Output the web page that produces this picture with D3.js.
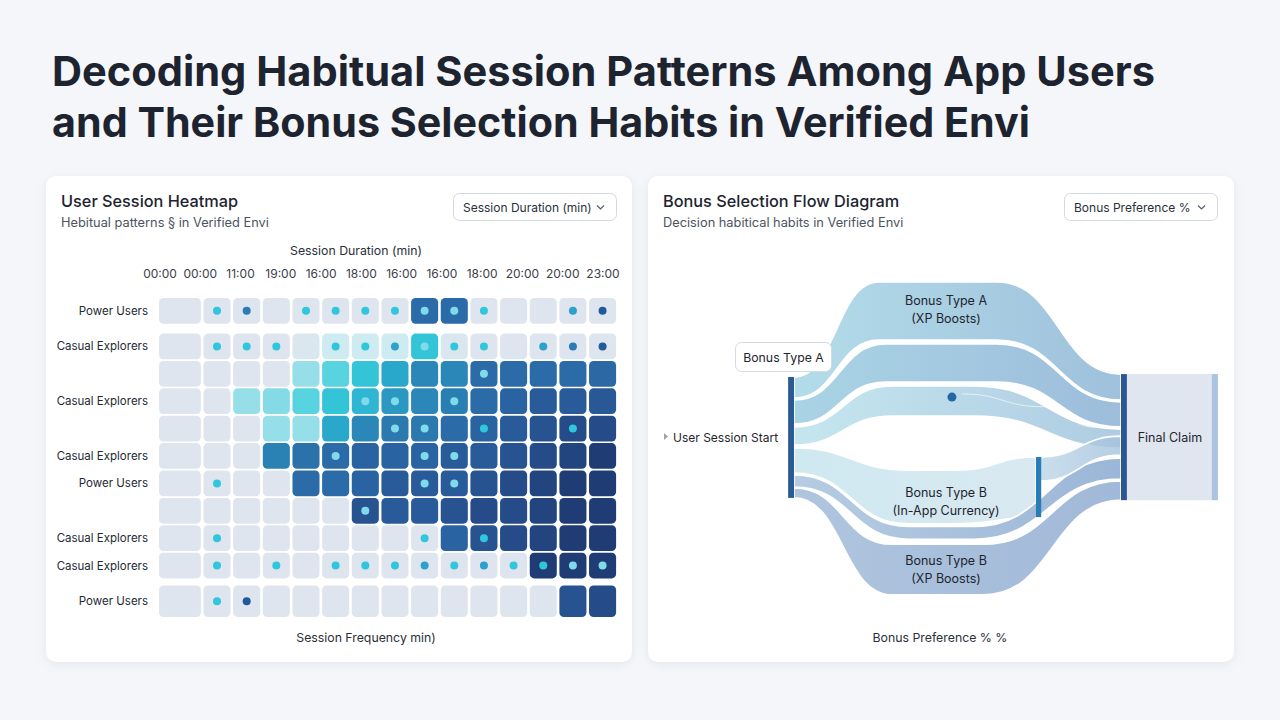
<!DOCTYPE html>
<html><head><meta charset="utf-8">
<script src="https://cdn.jsdelivr.net/npm/d3@7"></script>
<style>
html,body{margin:0;padding:0;background:#f4f6f9;}
svg{display:block;font-family:Inter,"Noto Sans",sans-serif;}
</style></head>
<body><svg id="c" width="1280" height="720"></svg>
<script>
// ---------- DATA ----------
const titleLines = ["Decoding Habitual Session Patterns Among App Users","and Their Bonus Selection Habits in Verified Envi"];
const timeTicks = ["00:00","00:00","11:00","19:00","16:00","18:00","16:00","16:00","18:00","20:00","20:00","23:00"];
const rowLabels = ["Power Users","Casual Explorers","","Casual Explorers","","Casual Explorers","Power Users","","Casual Explorers","Casual Explorers","Power Users"];
// intensity level 0..10 per cell (rows x 15 columns)
const intensity = [
 [0,0,0,0,0,0,0,0,7,7,0,0,0,0,0],
 [0,0,0,0,0.3,1,1,1,4,0.3,0,0,0,0,0],
 [0,0,0,0,2,3,4,5,6,6,7,7,7,7,7.2],
 [0,0,2,2.3,3,4,4.5,5.5,6,6.3,7,7.5,8,8,8.2],
 [0,0,0,2,2,5,6,6.5,6.5,7,7.5,8,8.5,9,9],
 [0,0,0,6.2,6.8,7,7.5,7.5,7.5,8,8,8.5,9,9.5,10],
 [0,0,0,0,7,7,7.5,8,8,8,8.5,9,9.5,10,10],
 [0,0,0,0,0,0,8.5,8,8,8.5,9,9,9.5,10,10],
 [0,0,0,0,0,0,0,0,0,7.5,8.5,9,9.5,10,10],
 [0,0,0,0,0,0,0,0,0,0,0,0,10,10,10],
 [0,0,0,0,0,0,0,0,0,0,0,0,0,8.5,9]
];
// marker type per cell (0 none)
const markers = [
 [0,1,3,0,1,1,1,1,2,2,1,0,0,4,5],
 [0,1,1,1,0,1,1,4,2,1,1,0,4,3,5],
 [0,0,0,0,0,0,0,0,0,0,2,0,0,0,0],
 [0,0,0,0,0,0,2,2,0,2,0,0,0,0,0],
 [0,0,0,0,0,0,0,2,2,0,1,0,0,1,0],
 [0,0,0,0,0,2,0,0,2,2,0,0,0,0,0],
 [0,1,0,0,0,0,0,0,2,2,0,0,0,0,0],
 [0,0,0,0,0,0,2,0,0,0,0,0,0,0,0],
 [0,1,0,0,0,0,0,0,1,0,1,0,0,0,0],
 [0,1,0,1,0,1,1,1,4,1,4,1,1,2,2],
 [0,1,5,0,0,0,0,0,0,0,0,0,0,0,0]
];
// flow diagram: stations [progress %, top share, bottom share]
const flowIds = ["typeA_xp","typeA_2","typeA_3","typeB_iac","typeB_5","typeB_xp","merge"];
const flowStations = [
 [[0,30.3,36.9],[26,0.6,18.8],[62,0.6,18.8],[100,29.4,37.5]],
 [[0,37.5,45.0],[28,20.0,31.9],[62,20.0,31.9],[100,38.1,45.9]],
 [[0,45.9,51.6],[30,33.1,42.5],[55,33.1,42.5],[100,46.6,52.5]],
 [[0,52.5,60.3],[35,59.4,76.2],[50,59.4,76.2],[74,55.3,74.1]],
 [[0,60.9,64.7],[35,77.0,81.0],[55,77.0,81.0],[100,55.6,62.2]],
 [[0,65.0,68.1],[30,82.6,98.4],[58,82.6,98.4],[100,62.8,68.8]],
 [[75,55.3,62.8],[100,48.8,54.7]]
];
const flowLabels = [["Bonus Type A","(XP Boosts)"],null,null,["Bonus Type B","(In-App Currency)"],null,["Bonus Type B","(XP Boosts)"],null];
// nodes: [progress start, progress end, top share, bottom share]
const sourceNode = {name:"User Session Start", span:[-1.8,0], share:[30.3,68.1]};
const midNode = {span:[74,75.6], share:[55.3,74.1]};
const targetNode = {name:"Final Claim", span:[100,101.8], share:[29.4,68.8]};
const highlightPoint = [48.3,36.6];

// ---------- STYLE ----------
const levelColors = ["#dfe5ee","#cdebf1","#97dfe8","#58d3e0","#33c4d8","#2aa8cb","#2a87b7","#2b6ba7","#295b9a","#254b88","#1f3c75"];
const markerColors = {1:"#30c7dc",2:"#7fdbe9",3:"#2a7cb3",4:"#2aa2cc",5:"#1f5a9b"};
const flowGrad = [["#b3dce9","#9fc1dc"],["#a9d4e5","#9dbddb"],["#c5e6ef","#afcce2"],["#cfe9f0","#d9e8f1"],["#b5cce2","#9cb6d7"],["#afc5df","#a1b9d8"],["#bcd7e7","#a4c1dd"]];

const svg = d3.select("#c");
const defs = svg.append("defs");
const sh = defs.append("filter").attr("id","sh").attr("x","-10%").attr("y","-10%").attr("width","120%").attr("height","120%");
sh.append("feDropShadow").attr("dx",0).attr("dy",2).attr("stdDeviation",5).attr("flood-color","#8a96a8").attr("flood-opacity",0.16);

// title
svg.selectAll("text.title").data(titleLines).join("text")
  .attr("x",52).attr("y",(d,i)=>86+i*51)
  .attr("font-size",41).attr("font-weight",700).attr("fill","#1d2430")
  .attr("textLength",(d,i)=>i===0?1103:978).attr("lengthAdjust","spacingAndGlyphs")
  .text(d=>d);

// cards
const cards = [{x:46,title:"User Session Heatmap",sub:"Hebitual patterns § in Verified Envi",dd:"Session Duration (min)",ddx:453,ddw:163},
               {x:648,title:"Bonus Selection Flow Diagram",sub:"Decision habitical habits in Verified Envi",dd:"Bonus Preference  %",ddx:1064,ddw:153}];
cards.forEach(c=>{
  svg.append("rect").attr("x",c.x).attr("y",176).attr("width",586).attr("height",486).attr("rx",10)
    .attr("fill","#fff").attr("filter","url(#sh)");
  svg.append("text").attr("x",c.x+15).attr("y",207).attr("font-size",16.3).attr("font-weight",500).attr("fill","#1d2430").text(c.title);
  svg.append("text").attr("x",c.x+15).attr("y",227).attr("font-size",12.8).attr("fill","#4b5361").text(c.sub);
  svg.append("rect").attr("x",c.ddx+0.5).attr("y",193.5).attr("width",c.ddw).attr("height",27).attr("rx",6)
    .attr("fill","#fff").attr("stroke","#d3d9e1");
  svg.append("text").attr("x",c.ddx+10).attr("y",211.5).attr("font-size",12).attr("fill","#2a303a").text(c.dd);
  svg.append("path").attr("d",`M${c.ddx+c.ddw-19},205.5 l3.5,3.5 l3.5,-3.5`).attr("fill","none").attr("stroke","#555d6a").attr("stroke-width",1.2);
});

// ---------- HEATMAP ----------
const nCols = intensity[0].length, nRows = intensity.length;
const firstColSpan = 1.5;
const colStart = i => i===0 ? 0 : firstColSpan + (i-1);
const colSpan = i => i===0 ? firstColSpan : 1;
const xH = d3.scaleLinear().domain([0, firstColSpan + nCols - 1]).range([159, 618.7]);
const rowStart = i => i===0 ? 0 : (i < nRows-1 ? i+0.3 : i+0.5);
const rowSpan = i => i===nRows-1 ? 1.15 : 0.94;
const yH = d3.scaleLinear().domain([0, nRows+0.65]).range([298, 617]);
const color = d3.scaleLinear().domain(d3.range(11)).range(levelColors).interpolate(d3.interpolateRgb);
const gap = 2.6;

const cells = [];
intensity.forEach((row,r)=>row.forEach((v,c)=>cells.push({r,c,v,m:markers[r][c]})));
const gH = svg.append("g");
gH.selectAll("rect.cell").data(cells).join("rect")
  .attr("x",d=>xH(colStart(d.c)))
  .attr("y",d=>yH(rowStart(d.r)))
  .attr("width",d=>xH(colStart(d.c)+colSpan(d.c))-xH(colStart(d.c))-gap)
  .attr("height",d=>yH(rowStart(d.r)+rowSpan(d.r))-yH(rowStart(d.r)))
  .attr("rx",4.5).attr("fill",d=>color(d.v));
gH.selectAll("circle.mk").data(cells.filter(d=>d.m>0)).join("circle")
  .attr("cx",d=>(xH(colStart(d.c))+xH(colStart(d.c)+colSpan(d.c))-gap)/2)
  .attr("cy",d=>(yH(rowStart(d.r))+yH(rowStart(d.r)+rowSpan(d.r)))/2)
  .attr("r",4).attr("fill",d=>markerColors[d.m]);

// row labels
gH.selectAll("text.rl").data(rowLabels.map((l,i)=>({l,i})).filter(d=>d.l)).join("text")
  .attr("x",148).attr("y",d=>(yH(rowStart(d.i))+yH(rowStart(d.i)+rowSpan(d.i)))/2+4)
  .attr("text-anchor","end").attr("font-size",11.5).attr("fill","#232933").text(d=>d.l);

// top time ticks
const xT = d3.scalePoint().domain(d3.range(timeTicks.length)).range([160,603]);
gH.selectAll("text.tt").data(timeTicks).join("text")
  .attr("x",(d,i)=>xT(i)).attr("y",277.5).attr("text-anchor","middle")
  .attr("font-size",12).attr("fill","#3a404a").text(d=>d);
gH.append("text").attr("x",356).attr("y",254.5).attr("text-anchor","middle").attr("font-size",12.3).attr("fill","#2a303a").text("Session Duration (min)");
gH.append("text").attr("x",366).attr("y",641.5).attr("text-anchor","middle").attr("font-size",12.3).attr("fill","#2a303a").text("Session Frequency min)");

// ---------- FLOW DIAGRAM ----------
const xF = d3.scaleLinear().domain([0,100]).range([794,1121]);
const yF = d3.scaleLinear().domain([0,100]).range([280,600]);
const gF = svg.append("g");
flowStations.forEach((st,i)=>{
  const gr = defs.append("linearGradient").attr("id","fg"+i).attr("gradientUnits","userSpaceOnUse")
    .attr("x1",xF(st[0][0])).attr("x2",xF(st[st.length-1][0])).attr("y1",0).attr("y2",0);
  gr.append("stop").attr("offset",0).attr("stop-color",flowGrad[i][0]);
  gr.append("stop").attr("offset",1).attr("stop-color",flowGrad[i][1]);
});
const area = d3.area().curve(d3.curveBumpX).x(d=>xF(d[0])).y0(d=>yF(d[1])).y1(d=>yF(d[2]));
gF.selectAll("path.flow").data(flowStations).join("path")
  .attr("d",area).attr("fill",(d,i)=>`url(#fg${i})`)
  .attr("fill-opacity",(d,i)=>flowIds[i]==="merge"?0.8:1)
  .attr("stroke","#fff").attr("stroke-width",1.6);

// highlight point & trail
gF.append("path").attr("d",d3.line().curve(d3.curveBumpX).x(d=>xF(d[0])).y(d=>yF(d[1]))([[highlightPoint[0]+3,highlightPoint[1]-1],[highlightPoint[0]+28,highlightPoint[1]+3],[92,46]]))
  .attr("fill","none").attr("stroke","#fff").attr("stroke-opacity",0.6).attr("stroke-width",1);
gF.append("circle").attr("cx",xF(highlightPoint[0])).attr("cy",yF(highlightPoint[1])).attr("r",4.5).attr("fill","#2566a6");

// nodes
gF.append("rect").attr("x",xF(sourceNode.span[0])).attr("y",yF(sourceNode.share[0]))
  .attr("width",xF(sourceNode.span[1])-xF(sourceNode.span[0])).attr("height",yF(sourceNode.share[1])-yF(sourceNode.share[0])).attr("fill","#2c5a94");
gF.append("rect").attr("x",xF(midNode.span[0])).attr("y",yF(midNode.share[0]))
  .attr("width",xF(midNode.span[1])-xF(midNode.span[0])).attr("height",yF(midNode.share[1])-yF(midNode.share[0])).attr("fill","#2a7db4");
gF.append("rect").attr("x",xF(targetNode.span[1])).attr("y",yF(targetNode.share[0]))
  .attr("width",91).attr("height",yF(targetNode.share[1])-yF(targetNode.share[0])).attr("fill","#dfe6ef");
gF.append("rect").attr("x",xF(targetNode.span[1])+85).attr("y",yF(targetNode.share[0]))
  .attr("width",6).attr("height",yF(targetNode.share[1])-yF(targetNode.share[0])).attr("fill","#a9c4de");
gF.append("rect").attr("x",xF(targetNode.span[0])).attr("y",yF(targetNode.share[0]))
  .attr("width",xF(targetNode.span[1])-xF(targetNode.span[0])).attr("height",yF(targetNode.share[1])-yF(targetNode.share[0])).attr("fill","#2c5593");
gF.append("text").attr("x",xF(targetNode.span[1])+43).attr("y",(yF(targetNode.share[0])+yF(targetNode.share[1]))/2+5)
  .attr("text-anchor","middle").attr("font-size",12.5).attr("fill","#1f252e").text(targetNode.name);

// flow labels
const labelShift = {0:0, 3:6, 5:1};
flowStations.forEach((st,i)=>{
  if(!flowLabels[i]) return;
  const cy = (yF(st[1][1])+yF(st[1][2]))/2;
  flowLabels[i].forEach((t,k)=>{
    gF.append("text").attr("x",xF(46.5)).attr("y",cy-2+labelShift[i]+(k-0.5)*18+5)
      .attr("text-anchor","middle").attr("font-size",12.5).attr("fill","#1f252e").text(t);
  });
});

// source label
gF.append("path").attr("d","M664,433 l4,3.5 l-4,3.5 z").attr("fill","#9aa3af");
gF.append("text").attr("x",673).attr("y",441.5).attr("font-size",12).attr("fill","#1f252e").text(sourceNode.name);
// callout box
gF.append("rect").attr("x",735.5).attr("y",342.5).attr("width",96).attr("height",29).attr("rx",6)
  .attr("fill","#fff").attr("stroke","#d5dbe2");
gF.append("text").attr("x",783.5).attr("y",361.5).attr("text-anchor","middle").attr("font-size",12.3).attr("fill","#1f252e").text("Bonus Type A");

gF.append("text").attr("x",940).attr("y",641.5).attr("text-anchor","middle").attr("font-size",12.3).attr("fill","#2a303a").text("Bonus Preference % %");
</script></body></html>
